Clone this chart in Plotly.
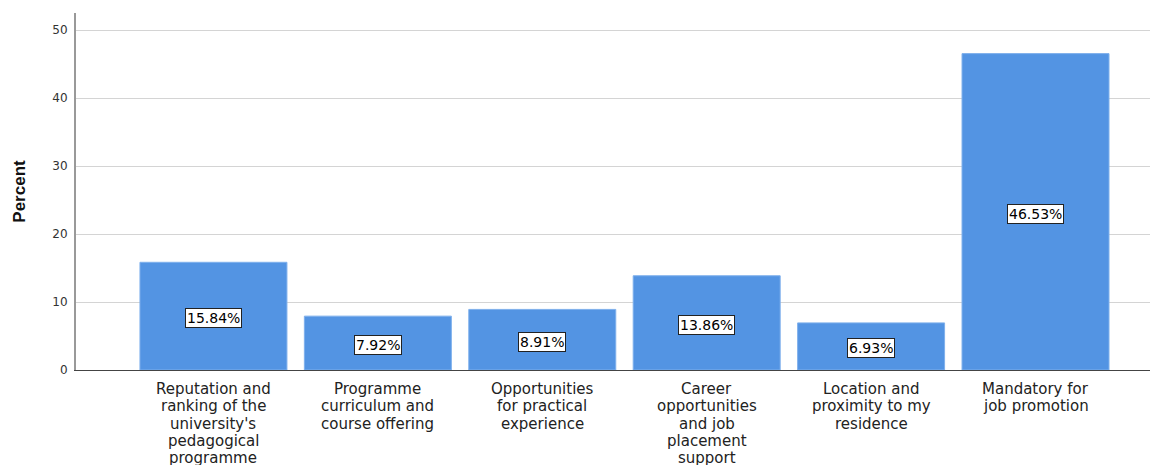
import plotly.graph_objects as go

categories = [
    "Reputation and ranking of the university's pedagogical programme",
    "Programme curriculum and course offering",
    "Opportunities for practical experience",
    "Career opportunities and job placement support",
    "Location and proximity to my residence",
    "Mandatory for job promotion",
]
label_lines = [
    ["Reputation and", "ranking of the", "university's", "pedagogical", "programme"],
    ["Programme", "curriculum and", "course offering"],
    ["Opportunities", "for practical", "experience"],
    ["Career", "opportunities", "and job", "placement", "support"],
    ["Location and", "proximity to my", "residence"],
    ["Mandatory for", "job promotion"],
]
percent = [15.84, 7.92, 8.91, 13.86, 6.93, 46.53]
y_ticks = [0, 10, 20, 30, 40, 50]

BAR_COLOR = "#5394e3"
FONT = "DejaVu Sans"

fig = go.Figure()
fig.add_trace(go.Bar(
    x=categories,
    y=percent,
    marker=dict(color=BAR_COLOR, line=dict(color="#7fb0ec", width=1)),
    hoverinfo="skip",
))

annotations = []
for cat, val in zip(categories, percent):
    annotations.append(dict(
        x=cat, y=val / 2, xref="x", yref="y",
        text=f"{val:.2f}%", showarrow=False,
        font=dict(family=FONT, size=14, color="#000000"),
        bgcolor="#ffffff", bordercolor="#222222", borderwidth=1, borderpad=1,
        xanchor="center", yanchor="middle", yshift=-2,
    ))
for cat, lines in zip(categories, label_lines):
    for k, line in enumerate(lines):
        annotations.append(dict(
            x=cat, y=0, xref="x", yref="paper",
            text=line, showarrow=False,
            font=dict(family=FONT, size=15, color="#222222"),
            xanchor="center", yanchor="top",
            yshift=-9 - 17.3 * k, borderpad=0,
        ))

# the page body adds an 8px offset; margins compensate for it
fig.update_layout(
    width=1158, height=465,
    margin=dict(l=68, r=8, t=5, b=103, autoexpand=False),
    paper_bgcolor="#ffffff", plot_bgcolor="#ffffff",
    bargap=0.106,
    showlegend=False,
    annotations=annotations,
    xaxis=dict(
        range=[-0.836, 5.745], automargin=False,
        showticklabels=False, showgrid=False, zeroline=False,
        showline=True, linecolor="#444444", linewidth=1, ticks="",
    ),
    yaxis=dict(
        range=[0, 52.5], automargin=False,
        tickvals=y_ticks,
        tickfont=dict(family=FONT, size=12, color="#333333"),
        showgrid=True, gridcolor="#d4d4d4", gridwidth=1,
        zeroline=False,
        showline=True, linecolor="#999999", linewidth=2, ticks="",
        ticklabelstandoff=4,
        title=dict(text="<b>Percent</b>", font=dict(family="Liberation Sans", size=17, color="#111111"), standoff=22),
    ),
)

fig.write_html("out.html")
